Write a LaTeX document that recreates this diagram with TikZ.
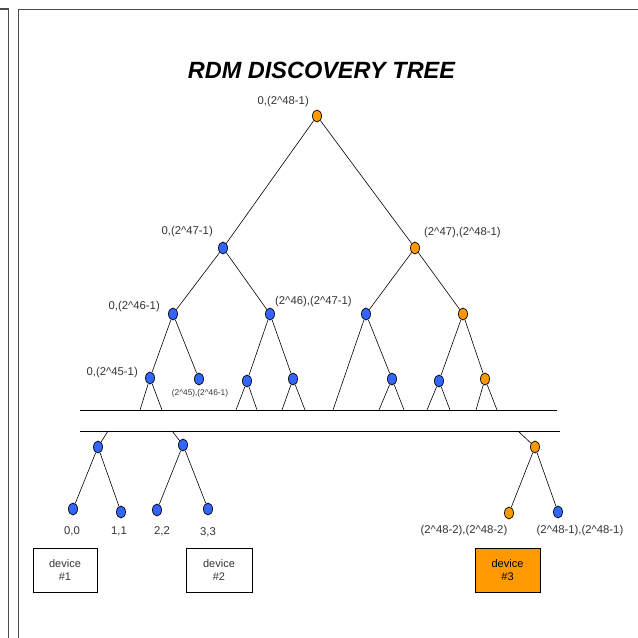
\documentclass[tikz,border=0pt]{standalone}
\usepackage{fontspec}
\setmainfont{Liberation Sans}
\usepackage{xcolor}
\usetikzlibrary{positioning,shapes.geometric}
\definecolor{rdmorange}{RGB}{255,153,0}
\definecolor{rdmblue}{RGB}{51,102,255}
\definecolor{framegray}{RGB}{75,75,75}
\newcommand{\pw}{\textasciicircum}

\begin{document}
\begin{tikzpicture}[x=1pt,y=-1pt,
    dot/.style={shape=ellipse, draw, line width=0.7pt, minimum width=9pt, minimum height=12pt, inner sep=0pt},
    bluedot/.style={dot, fill=rdmblue},
    orangedot/.style={dot, fill=rdmorange},
    lbl/.style={font=\fontsize{11.3}{12}\selectfont, text=black!80, inner sep=0pt},
    devbox/.style={draw, line width=0.9pt, minimum width=64pt, minimum height=44pt, align=center, font=\fontsize{11}{13}\selectfont, text=black!80}]
  \useasboundingbox (0,0) rectangle (638,638);
  % frame
  \draw[framegray, line width=1.6pt] (0,9) -- (8.5,9) -- (8.5,638);
  \draw[framegray, line width=1.6pt] (18.5,638) -- (18.5,9.5) -- (638,9.5);
  \node (title) at (321.5,70) {\fontsize{23.5}{26}\selectfont\bfseries\itshape RDM DISCOVERY TREE};

  % upper tree
  \node[orangedot] (r) at (317,116) {};
  \node[bluedot] (a) at (223,248) {};
  \node[orangedot] (b) at (415,248) {};
  \node[bluedot] (aa) at (173,314) {};
  \node[bluedot] (ab) at (270,314) {};
  \node[bluedot] (ba) at (366,314) {};
  \node[orangedot] (bb) at (463,314) {};
  \node[bluedot] (aaa) at (150,378) {};
  \node[bluedot] (aab) at (199,379) {};
  \node[bluedot] (aba) at (247,381) {};
  \node[bluedot] (abb) at (293,379) {};
  \node[bluedot] (bab) at (392,379) {};
  \node[bluedot] (bba) at (439,381) {};
  \node[orangedot] (bbb) at (485,379) {};

  \node[lbl, anchor=east] (rl) at (309,102) {0,(2\pw48-1)};
  \node[lbl, anchor=east] (al) at (213,232) {0,(2\pw47-1)};
  \node[lbl, anchor=west] (bl) at (424,233) {(2\pw47),(2\pw48-1)};
  \node[lbl, anchor=east] (aal) at (160,307) {0,(2\pw46-1)};
  \node[lbl, anchor=west] (abl) at (275,302) {(2\pw46),(2\pw47-1)};
  \node[lbl, anchor=east] (aaal) at (138,373) {0,(2\pw45-1)};
  \node[lbl, font=\fontsize{8.3}{9}\selectfont] (aabl) at (200,393) {(2\pw45),(2\pw46-1)};

  \draw[line width=0.6pt] (r) -- (a) (r) -- (b);
  \draw[line width=0.6pt] (a) -- (aa) (a) -- (ab) (b) -- (ba) (b) -- (bb);
  \draw[line width=0.6pt] (aa) -- (aaa) (aa) -- (aab) (ab) -- (aba) (ab) -- (abb);
  \draw[line width=0.6pt] (ba) -- (bab) (bb) -- (bba) (bb) -- (bbb);

  % the gap
  \coordinate (barL) at (80,410);
  \coordinate (barR) at (557,410);
  \coordinate (bar2L) at (80,431);
  \coordinate (bar2R) at (560,431);
  \draw[line width=0.8pt] (barL) -- (barR);
  \draw[line width=0.8pt] (bar2L) -- (bar2R);

  \coordinate (bal) at (333,410);
  \draw[line width=0.6pt] (ba) -- (bal);
  \foreach \p/\l/\r in {aaa/140/162, aba/236/257, abb/282/305, bab/379/404, bba/427/450, bbb/476/497}{
    \coordinate (\p-l) at (\l,410);
    \coordinate (\p-r) at (\r,410);
    \draw[line width=0.6pt] (\p) -- (\p-l) (\p) -- (\p-r);
  }

  % lower tree
  \node[bluedot] (c1) at (98,447) {};
  \node[bluedot] (c2) at (183,445) {};
  \node[orangedot] (c3) at (535,447) {};
  \coordinate (c1t) at (108,431);
  \coordinate (c2t) at (172,431);
  \coordinate (c3t) at (518,431);
  \draw[line width=0.6pt] (c1t) -- (c1) (c2t) -- (c2) (c3t) -- (c3);

  \node[bluedot] (d0) at (73,509) {};
  \node[bluedot] (d1) at (121,512) {};
  \node[bluedot] (d2) at (157,510) {};
  \node[bluedot] (d3) at (208,509) {};
  \node[orangedot] (d4) at (509,513) {};
  \node[bluedot] (d5) at (558,512) {};
  \draw[line width=0.6pt] (c1) -- (d0) (c1) -- (d1) (c2) -- (d2) (c2) -- (d3) (c3) -- (d4) (c3) -- (d5);

  \node[lbl] (d0l) at (72,531) {0,0};
  \node[lbl] (d1l) at (119,531) {1,1};
  \node[lbl] (d2l) at (162,531) {2,2};
  \node[lbl] (d3l) at (208,532) {3,3};
  \node[lbl] (d4l) at (464,531) {(2\pw48-2),(2\pw48-2)};
  \node[lbl] (d5l) at (580,531) {(2\pw48-1),(2\pw48-1)};

  \node[devbox] (dev1) at (65,570) {device\\\#1};
  \node[devbox, minimum width=66pt] (dev2) at (219,570) {device\\\#2};
  \node[devbox, minimum width=65pt, fill=rdmorange, text=black] (dev3) at (507.5,570) {device\\\#3};
\end{tikzpicture}
\end{document}
